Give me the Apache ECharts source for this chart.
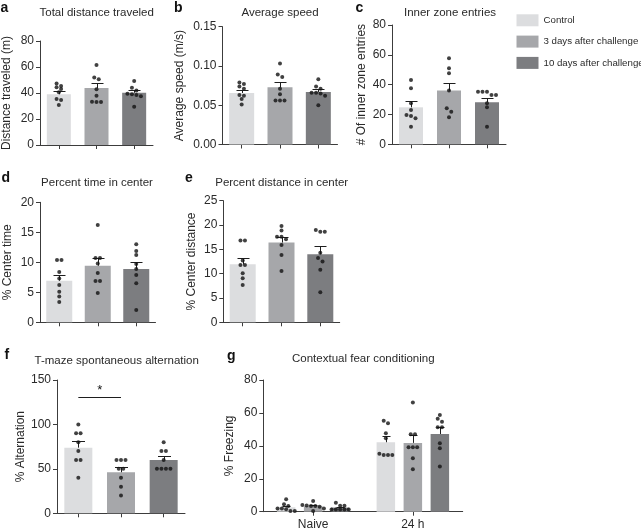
<!DOCTYPE html>
<html><head><meta charset="utf-8">
<script src="https://cdn.jsdelivr.net/npm/echarts@6/dist/echarts.min.js"></script>
<style>html,body{margin:0;padding:0;background:#fff}#c{width:641px;height:529px}</style>
</head><body><div id="c"></div>
<script>
// ---------- DATA ----------
const groups = ['Control', '3 days after challenge', '10 days after challenge'];
const cats = ['C', 'D3', 'D10'];
const timepoints = ['Naive', '24 h'];

// a: Total distance traveled (m)
const distMean = [39.0, 43.8, 40.2];
const distSem = [2.8, 3.6, 2.1];
const distDots = [
  [47.4, 45.4, 44.4, 43.1, 40.5, 35.4, 34.6, 30.8],
  [61.5, 52.0, 50.5, 42.8, 37.9, 33.3, 33.0, 33.0],
  [49.2, 44.0, 42.0, 39.5, 39.0, 38.5, 37.5, 29.5]
];
// b: Average speed (m/s)
const speedMean = [0.0656, 0.0728, 0.0669];
const speedSem = [0.0043, 0.0069, 0.0039];
const speedDots = [
  [0.079, 0.077, 0.074, 0.071, 0.063, 0.062, 0.058, 0.051],
  [0.103, 0.089, 0.086, 0.071, 0.064, 0.056, 0.056, 0.056],
  [0.083, 0.074, 0.071, 0.066, 0.066, 0.065, 0.062, 0.050]
];
// c: Inner zone entries
const entriesMean = [24.8, 36.0, 28.2];
const entriesSem = [4.3, 5.1, 2.9];
const entriesDots = [
  [43.2, 37.6, 27.5, 23.0, 19.7, 19.0, 17.4, 11.8],
  [57.7, 51.0, 47.6, 36.0, 24.2, 21.9, 18.1],
  [35.2, 35.2, 35.2, 33.1, 33.1, 27.5, 24.8, 11.8]
];
// d: Percent time in center
const timeMean = [6.93, 9.43, 8.88];
const timeSem = [0.97, 1.24, 1.12];
const timeDots = [
  [10.4, 10.4, 8.4, 7.3, 6.2, 5.1, 4.3, 3.4],
  [16.2, 10.7, 10.7, 9.8, 8.2, 6.9, 6.9, 4.9],
  [13.0, 11.9, 11.2, 9.7, 8.9, 7.9, 6.5, 2.05]
];
// e: Percent distance in center
const cdistMean = [11.93, 16.4, 14.0];
const cdistSem = [1.27, 1.2, 1.6];
const cdistDots = [
  [16.8, 16.8, 12.7, 11.8, 11.8, 10.1, 9.05, 7.67],
  [19.8, 18.85, 17.6, 17.6, 17.1, 15.9, 13.85, 10.55],
  [19.0, 18.6, 18.6, 14.3, 13.2, 12.5, 10.8, 6.2]
];
// f: T-maze spontaneous alternation
const altMean = [73.9, 46.2, 60.0];
const altSem = [7.5, 5.6, 4.5];
const altDots = [
  [100, 90, 90, 80, 70, 60, 60, 40],
  [60, 60, 60, 50, 50, 40, 30, 20],
  [80, 70, 70, 60, 50, 50, 50, 50]
];
const altSigLevel = 131;
// g: Contextual fear conditioning (% freezing), per group: [Naive, 24 h]
const freezeMean = [[2.7, 42.2], [3.4, 41.8], [2.5, 47.2]];
const freezeSem = [[0.9, 3.8], [0.7, 4.8], [0.6, 4.1]];
const freezeDots = [
  [[7.5, 4.5, 3.5, 2.0, 2.0, 1.5, 0.5, 0.5], [55.3, 53.7, 47.6, 44.6, 35.2, 34.5, 34.5, 34.5]],
  [[6.5, 4.0, 3.8, 3.5, 3.5, 3.0, 2.0, 0.5], [66.3, 47.0, 47.0, 39.1, 39.1, 39.1, 32.5, 25.8]],
  [[5.5, 3.6, 3.6, 1.4, 1.4, 1.4, 1.4, 1.4], [58.8, 56.4, 54.7, 51.3, 51.3, 41.6, 38.5, 27.4]]
];

// ---------- STYLE / LAYOUT ----------
const FONT = '"Liberation Sans", Arial, Helvetica, sans-serif';
const TXT = '#2a2a2a';
const AX = '#3c3c3c';
const colors = ['#dcdddf', '#a6a7aa', '#7c7d80'];

const panels = [
  {letter: 'a', title: 'Total distance traveled', yName: 'Distance traveled (m)', mean: distMean, sem: distSem, dots: distDots, max: 80, interval: 20,
   grid: {left: 40, top: 41, width: 113, height: 104}, barW: 24, nameGap: 27, cap: 12, titlePos: [96.7, 13.3], letterPos: [0.5, 8]},
  {letter: 'b', title: 'Average speed', yName: 'Average speed (m/s)', mean: speedMean, sem: speedSem, dots: speedDots, max: 0.15, interval: 0.05, fmt: v => v.toFixed(2),
   grid: {left: 222.5, top: 26.7, width: 115, height: 117.8}, barW: 25, nameGap: 37, cap: 12, titlePos: [280, 13], letterPos: [174, 8]},
  {letter: 'c', title: 'Inner zone entries', yName: '# Of inner zone entries', mean: entriesMean, sem: entriesSem, dots: entriesDots, max: 80, interval: 20,
   grid: {left: 392, top: 25, width: 114, height: 119.3}, barW: 24, nameGap: 24, cap: 12, titlePos: [450, 13], letterPos: [355.5, 8]},
  {letter: 'd', title: 'Percent time in center', yName: '% Center time', mean: timeMean, sem: timeSem, dots: timeDots, max: 20, interval: 5,
   grid: {left: 40, top: 202.3, width: 115.5, height: 120}, barW: 26, nameGap: 26, cap: 12, titlePos: [97, 183.3], letterPos: [1.5, 178]},
  {letter: 'e', title: 'Percent distance in center', yName: '% Center distance', mean: cdistMean, sem: cdistSem, dots: cdistDots, max: 25, interval: 5,
   grid: {left: 223.3, top: 200.7, width: 116.4, height: 121.6}, barW: 26, nameGap: 25.6, cap: 12, titlePos: [281.7, 182.7], letterPos: [185, 178]},
  {letter: 'f', title: 'T-maze spontaneous alternation', yName: '% Alternation', mean: altMean, sem: altSem, dots: altDots, max: 150, interval: 50,
   grid: {left: 57, top: 380, width: 128, height: 133.3}, barW: 28, nameGap: 30.7, cap: 13, titlePos: [116.7, 360.7], letterPos: [4.5, 355]}
];
const gPanel = {letter: 'g', title: 'Contextual fear conditioning', yName: '% Freezing', max: 80, interval: 20,
  grid: {left: 263.3, top: 380, width: 199.4, height: 131.7}, barW: 18.5, barGap: '46%', groupStep: 27, nameGap: 27.3, cap: 8,
  titlePos: [363.3, 359.3], letterPos: [227, 356]};

// symmetric rows of dots (scatter dot plot style)
function swarm(vals, ppu, step, thr) {
  const idx = vals.map((v, i) => i).sort((a, b) => vals[b] - vals[a]);
  const off = new Array(vals.length).fill(0);
  let row = [];
  const flush = () => { row.forEach((k, j) => off[k] = (j - (row.length - 1) / 2) * step); row = []; };
  idx.forEach(k => {
    if (row.length && (vals[row[0]] - vals[k]) * ppu > thr) flush();
    row.push(k);
  });
  flush();
  return off;
}

const grids = [], xAxes = [], yAxes = [], series = [], graphics = [];

function yAxisCfg(gi, p) {
  return {
    gridIndex: gi, type: 'value', min: 0, max: p.max, interval: p.interval,
    name: p.yName, nameLocation: 'middle', nameGap: p.nameGap, nameRotate: 90,
    nameTextStyle: {fontSize: 12, color: TXT, fontFamily: FONT},
    axisLine: {show: true, lineStyle: {color: AX, width: 1}},
    axisTick: {show: true, length: 4, lineStyle: {color: AX, width: 1}},
    axisLabel: {fontSize: 12, color: TXT, margin: 6, fontFamily: FONT, formatter: p.fmt || (v => String(v))},
    splitLine: {show: false}
  };
}
function errSeries(gi, cats, means, sems, offPx, capW) {
  return {
    type: 'custom', xAxisIndex: gi, yAxisIndex: gi, z: 3, silent: true,
    data: means.map((m, i) => [i, m, sems[i]]),
    renderItem: (params, api) => {
      const a = api.coord([api.value(0), api.value(1)]);
      const b = api.coord([api.value(0), api.value(1) + api.value(2)]);
      const x = Math.round(a[0] + offPx) + 0.5;
      const yb = Math.round(b[1]) + 0.5;
      return {type: 'group', children: [
        {type: 'line', shape: {x1: x, y1: a[1], x2: x, y2: yb}, style: {stroke: '#1e1e1e', lineWidth: 1}},
        {type: 'line', shape: {x1: x - capW / 2, y1: yb, x2: x + capW / 2, y2: yb}, style: {stroke: '#1e1e1e', lineWidth: 1}}
      ]};
    }
  };
}
function addTexts(p) {
  graphics.push({type: 'text', x: p.titlePos[0], y: p.titlePos[1], silent: true,
    style: {text: p.title, fontSize: 11.5, fontFamily: FONT, fill: TXT, textAlign: 'center', textVerticalAlign: 'middle'}});
  graphics.push({type: 'text', x: p.letterPos[0], y: p.letterPos[1], silent: true,
    style: {text: p.letter, fontSize: 14, fontWeight: 'bold', fontFamily: FONT, fill: '#111', textAlign: 'left', textVerticalAlign: 'middle'}});
}

panels.forEach((p, gi) => {
  grids.push(Object.assign({outerBoundsMode: 'none', containLabel: false}, p.grid));
  xAxes.push({
    gridIndex: gi, type: 'category', data: cats,
    axisLine: {show: true, lineStyle: {color: AX, width: 1}},
    axisTick: {show: true, alignWithLabel: true, length: 4, lineStyle: {color: AX, width: 1}},
    axisLabel: {show: false}, splitLine: {show: false}
  });
  yAxes.push(yAxisCfg(gi, p));
  const barS = {
    type: 'bar', xAxisIndex: gi, yAxisIndex: gi, barWidth: p.barW, z: 2, silent: true,
    data: p.mean.map((m, i) => ({value: m, itemStyle: {color: colors[i]}}))
  };
  if (p.letter === 'f') {
    barS.markLine = {
      silent: true, symbol: ['none', 'none'], animation: false,
      lineStyle: {color: '#1e1e1e', width: 1, type: 'solid'},
      label: {show: true, formatter: '*', position: 'middle', distance: 0, fontSize: 13, color: '#111', fontFamily: FONT},
      data: [[{coord: [cats[0], altSigLevel]}, {coord: [cats[1], altSigLevel]}]]
    };
  }
  series.push(barS);
  series.push(errSeries(gi, cats, p.mean, p.sem, 0, p.cap));
  const ppu = p.grid.height / p.max;
  const dotData = [];
  p.dots.forEach((vals, ci) => {
    const off = swarm(vals, ppu, 4.5, 3.6);
    vals.forEach((v, k) => dotData.push({value: [ci, v], symbolOffset: [off[k], 0]}));
  });
  series.push({type: 'scatter', xAxisIndex: gi, yAxisIndex: gi, z: 4, silent: true,
    symbol: 'circle', symbolSize: 4, itemStyle: {color: '#111'}, data: dotData});
  addTexts(p);
});

// panel g
const gi = panels.length;
grids.push(Object.assign({outerBoundsMode: 'none', containLabel: false}, gPanel.grid));
xAxes.push({
  gridIndex: gi, type: 'category', data: timepoints,
  axisLine: {show: true, lineStyle: {color: AX, width: 1}},
  axisTick: {show: true, alignWithLabel: true, length: 4, lineStyle: {color: AX, width: 1}},
  axisLabel: {show: true, fontSize: 12, color: TXT, margin: 7, fontFamily: FONT}, splitLine: {show: false}
});
yAxes.push(yAxisCfg(gi, gPanel));
const gppu = gPanel.grid.height / gPanel.max;
groups.forEach((name, k) => {
  series.push({
    name: name, type: 'bar', xAxisIndex: gi, yAxisIndex: gi, barWidth: gPanel.barW, barGap: gPanel.barGap, z: 2, silent: true,
    itemStyle: {color: colors[k]}, data: freezeMean[k]
  });
});
groups.forEach((name, k) => {
  const offPx = (k - 1) * gPanel.groupStep;
  series.push(errSeries(gi, timepoints, freezeMean[k], freezeSem[k], offPx, gPanel.cap));
  const dotData = [];
  freezeDots[k].forEach((vals, ci) => {
    const off = swarm(vals, gppu, 4.3, 3.6);
    vals.forEach((v, j) => dotData.push({value: [ci, v], symbolOffset: [offPx + off[j], 0]}));
  });
  series.push({type: 'scatter', xAxisIndex: gi, yAxisIndex: gi, z: 4, silent: true,
    symbol: 'circle', symbolSize: 4, itemStyle: {color: '#111'}, data: dotData});
});
addTexts(gPanel);

const chart = echarts.init(document.getElementById('c'), null, {renderer: 'canvas'});
chart.setOption({
  animation: false,
  backgroundColor: '#fff',
  textStyle: {fontFamily: FONT},
  legend: {
    data: groups, orient: 'vertical', left: 511.5, top: 9.3,
    itemWidth: 22, itemHeight: 12, itemGap: 9.3, icon: 'rect', selectedMode: false,
    textStyle: {fontSize: 9.7, color: TXT, fontFamily: FONT}
  },
  grid: grids, xAxis: xAxes, yAxis: yAxes, series: series, graphic: graphics
});
</script></body></html>
